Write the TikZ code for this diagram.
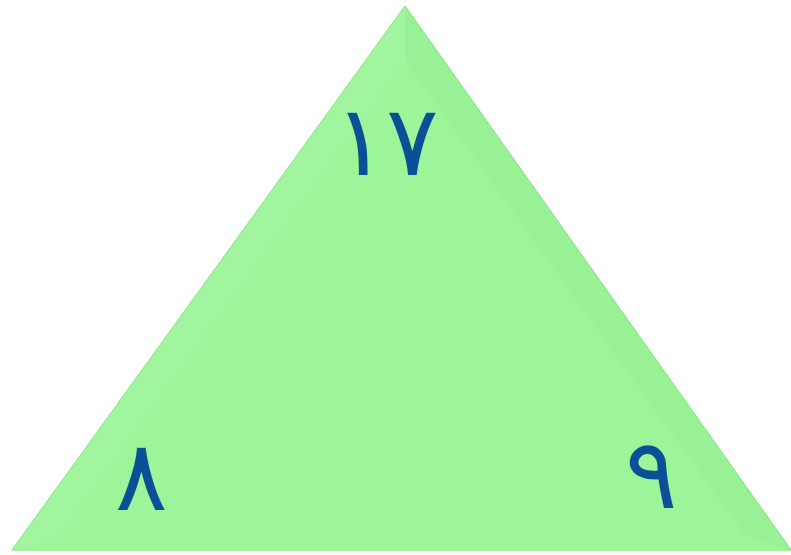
\documentclass[tikz,border=0pt]{standalone}
\usepackage{fontspec}
\newfontfamily\arabicfont[Script=Arabic]{DejaVu Sans}
\definecolor{leaf}{RGB}{156,245,153}
\definecolor{leafedge}{RGB}{145,232,143}
\definecolor{ink}{RGB}{10,80,150}
\begin{document}
\begin{tikzpicture}[x=1pt,y=-1pt,
 num/.style={text=ink,font=\arabicfont\fontsize{98}{100}\selectfont,inner sep=0pt}]
\useasboundingbox (0,0) rectangle (791,554);
\coordinate (top) at (405,6);
\coordinate (bl) at (12,550);
\coordinate (br) at (791,550);
\fill[leaf] (top)--(bl)--(br)--cycle;
% soft bevel along the edges
\draw[leafedge,line width=1pt,line join=round] (top)--(bl)--(br)--cycle;
\fill[white,opacity=.06] (top)--(bl)--(60,535)--(405,60)--cycle;
\fill[black,opacity=.015] (top)--(br)--(745,535)--(405,60)--cycle;
\node[num] (a) at (387,144) {١٧};
\node[num] (b) at (142,479) {٨};
\node[num] (c) at (652,477) {٩};
\end{tikzpicture}
\end{document}
